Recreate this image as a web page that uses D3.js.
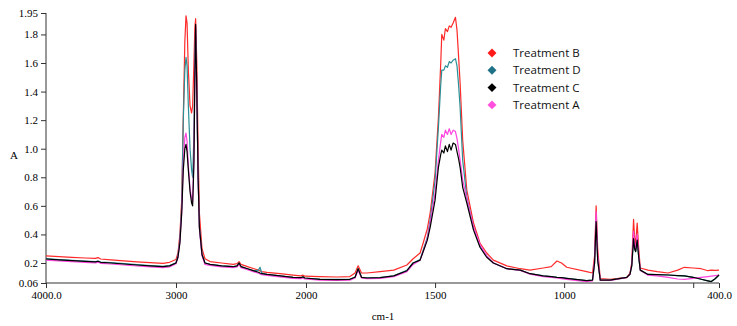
<!DOCTYPE html>
<html>
<head>
<meta charset="utf-8">
<script src="https://cdn.jsdelivr.net/npm/d3@7"></script>
<style>
  body { margin: 0; background: #fff; }
  .tick text { font-family: "Liberation Serif", serif; font-size: 11px; fill: #000; }
</style>
</head>
<body>
<div id="graph"></div>
<script>
const width = 737, height = 326;

// wavenumbers (cm-1), shared by all four spectra
const wavenumbers = [4000, 3900, 3800, 3700, 3620, 3600, 3580, 3500, 3400, 3300, 3200, 3100, 3050, 3000,
  2985, 2970, 2956, 2944, 2932, 2923, 2915, 2905, 2892, 2880, 2872, 2862, 2855, 2849, 2840, 2830, 2820,
  2800, 2777, 2738, 2650, 2560, 2530, 2515, 2500, 2450, 2400, 2365, 2354, 2340, 2300, 2200, 2100, 2040,
  2023, 2010, 1946, 1880, 1830, 1810, 1798, 1785, 1764, 1713, 1660, 1609, 1585, 1558, 1546, 1530, 1519,
  1500, 1487, 1478, 1474, 1466, 1460, 1452, 1445, 1438, 1430, 1421, 1415, 1409, 1403, 1393, 1377, 1351,
  1326, 1300, 1274, 1222, 1170, 1132, 1081, 1050, 1028, 1010, 990, 913, 890, 882, 876, 870, 860, 822,
  757, 745, 738, 731, 727, 723, 717, 711, 705, 675, 640, 597, 560, 534, 500, 469, 443, 430, 415, 400];

const treatmentB = [0.250, 0.245, 0.240, 0.235, 0.232, 0.238, 0.228, 0.222, 0.215, 0.208, 0.202, 0.198, 0.205, 0.225,
  0.27, 0.40, 0.64, 1.22, 1.75, 1.93, 1.88, 1.55, 1.30, 1.25, 1.30, 1.60, 1.85, 1.91, 1.60, 1.00, 0.55,
  0.30, 0.23, 0.21, 0.20, 0.19, 0.195, 0.21, 0.19, 0.175, 0.16, 0.15, 0.145, 0.14, 0.135, 0.125, 0.115, 0.11,
  0.115, 0.108, 0.104, 0.102, 0.105, 0.13, 0.18, 0.13, 0.13, 0.14, 0.15, 0.186, 0.23, 0.27, 0.34, 0.44, 0.55,
  0.83, 1.22, 1.60, 1.80, 1.76, 1.84, 1.82, 1.86, 1.85, 1.88, 1.92, 1.83, 1.65, 1.46, 1.06, 0.71, 0.48,
  0.34, 0.27, 0.22, 0.18, 0.16, 0.15, 0.165, 0.175, 0.214, 0.20, 0.17, 0.14, 0.13, 0.25, 0.60, 0.30, 0.09, 0.086,
  0.10, 0.13, 0.20, 0.505, 0.38, 0.33, 0.48, 0.30, 0.165, 0.15, 0.14, 0.13, 0.15, 0.17, 0.165, 0.16, 0.146, 0.15, 0.148, 0.15];

const treatmentD = [0.230, 0.224, 0.219, 0.214, 0.210, 0.214, 0.207, 0.202, 0.195, 0.188, 0.182, 0.176, 0.182, 0.202,
  0.25, 0.37, 0.60, 1.20, 1.55, 1.64, 1.58, 1.30, 1.00, 0.85, 0.80, 1.10, 1.60, 1.84, 1.40, 0.80, 0.45,
  0.26, 0.20, 0.19, 0.18, 0.175, 0.18, 0.20, 0.175, 0.16, 0.145, 0.15, 0.17, 0.13, 0.12, 0.11, 0.10, 0.097,
  0.103, 0.095, 0.087, 0.085, 0.087, 0.10, 0.16, 0.10, 0.096, 0.098, 0.11, 0.148, 0.20, 0.225, 0.29, 0.38, 0.50,
  0.78, 1.15, 1.45, 1.55, 1.55, 1.58, 1.57, 1.61, 1.60, 1.62, 1.63, 1.58, 1.45, 1.29, 0.92, 0.66, 0.45,
  0.32, 0.25, 0.20, 0.16, 0.15, 0.125, 0.11, 0.105, 0.10, 0.097, 0.093, 0.077, 0.08, 0.20, 0.50, 0.22, 0.08, 0.08,
  0.10, 0.12, 0.18, 0.37, 0.30, 0.28, 0.36, 0.24, 0.15, 0.12, 0.118, 0.116, 0.112, 0.11, 0.10, 0.086, 0.075, 0.07, 0.09, 0.116];

const treatmentC = [0.228, 0.222, 0.217, 0.212, 0.208, 0.212, 0.205, 0.200, 0.193, 0.186, 0.180, 0.174, 0.180, 0.200,
  0.24, 0.34, 0.55, 0.85, 1.00, 1.03, 0.98, 0.85, 0.70, 0.62, 0.60, 0.90, 1.50, 1.87, 1.40, 0.80, 0.45,
  0.26, 0.20, 0.19, 0.18, 0.174, 0.18, 0.20, 0.175, 0.16, 0.145, 0.135, 0.13, 0.125, 0.12, 0.11, 0.10, 0.097,
  0.103, 0.095, 0.086, 0.084, 0.086, 0.10, 0.16, 0.10, 0.095, 0.097, 0.11, 0.146, 0.20, 0.22, 0.28, 0.36, 0.45,
  0.64, 0.87, 0.96, 0.99, 0.97, 1.02, 0.98, 1.03, 0.99, 1.04, 1.03, 0.98, 0.93, 0.87, 0.73, 0.62, 0.43,
  0.31, 0.24, 0.20, 0.16, 0.15, 0.125, 0.11, 0.105, 0.10, 0.097, 0.093, 0.076, 0.08, 0.20, 0.49, 0.22, 0.08, 0.08,
  0.10, 0.12, 0.18, 0.37, 0.30, 0.28, 0.36, 0.24, 0.15, 0.12, 0.118, 0.116, 0.112, 0.11, 0.10, 0.086, 0.075, 0.07, 0.09, 0.116];

const treatmentA = [0.220, 0.215, 0.210, 0.205, 0.201, 0.205, 0.198, 0.193, 0.186, 0.179, 0.173, 0.167, 0.173, 0.195,
  0.24, 0.35, 0.56, 0.90, 1.08, 1.11, 1.05, 0.88, 0.72, 0.65, 0.63, 0.95, 1.50, 1.86, 1.40, 0.80, 0.44,
  0.25, 0.19, 0.183, 0.173, 0.167, 0.173, 0.19, 0.168, 0.153, 0.138, 0.128, 0.124, 0.118, 0.113, 0.103, 0.093, 0.09,
  0.095, 0.088, 0.08, 0.078, 0.08, 0.095, 0.15, 0.095, 0.09, 0.092, 0.105, 0.14, 0.19, 0.22, 0.28, 0.37, 0.48,
  0.69, 0.92, 1.05, 1.10, 1.08, 1.13, 1.10, 1.14, 1.10, 1.13, 1.12, 1.07, 1.00, 0.92, 0.78, 0.65, 0.45,
  0.33, 0.25, 0.20, 0.16, 0.148, 0.122, 0.105, 0.10, 0.095, 0.09, 0.085, 0.07, 0.075, 0.22, 0.56, 0.25, 0.078, 0.078,
  0.098, 0.12, 0.19, 0.42, 0.33, 0.30, 0.40, 0.26, 0.15, 0.115, 0.11, 0.10, 0.088, 0.086, 0.092, 0.10, 0.105, 0.108, 0.112, 0.116];

const yTicks = [0.06, 0.2, 0.4, 0.6, 0.8, 1.0, 1.2, 1.4, 1.6, 1.8, 1.95];
const xTicks = [4000, 3000, 2000, 1500, 1000, 500, 400];
const xTickLabels = {4000: "4000.0", 3000: "3000", 2000: "2000", 1500: "1500", 1000: "1000", 500: "", 400: "400.0"};

// drawing order: red, teal, magenta, black on top
const series = [
  {name: "Treatment B", values: treatmentB, color: "#ff2a2a"},
  {name: "Treatment D", values: treatmentD, color: "#2a8f97"},
  {name: "Treatment A", values: treatmentA, color: "#ff44e0"},
  {name: "Treatment C", values: treatmentC, color: "#000000"}
];
const legendOrder = ["Treatment B", "Treatment D", "Treatment C", "Treatment A"];
const legendColors = {"Treatment B": "#ff1a1a", "Treatment D": "#1f7288", "Treatment C": "#000000", "Treatment A": "#ff4fdc"};

let svg = d3.select("#graph").
append("svg").
attr("width", width).
attr("height", height);

// wavenumber axis is compressed by half above 2000 cm-1
const xScale = d3.scaleLinear().
domain([4000, 2000, 400]).
range([46, 306, 719]);
const yScale = d3.scaleLinear().
domain([0.06, 1.95]).
range([283, 13]);

const xAxis = d3.axisBottom(xScale).
tickValues(xTicks).
tickSize(5).
tickPadding(3).
tickFormat(d => xTickLabels[d]);
const yAxis = d3.axisLeft(yScale).
tickValues(yTicks).
tickSize(5).
tickPadding(3).
tickFormat(d => d === 0.06 ? "0.06" : d === 1.95 ? "1.95" : d3.format(".1f")(d));

svg.append("g").
attr("transform", "translate(0," + 283 + ")").
call(xAxis).
call(g => g.select(".domain").attr("d", "M46,0H719"));
svg.append("g").
attr("transform", "translate(46,0)").
call(yAxis).
call(g => g.select(".domain").attr("d", "M0,13V283"));

svg.selectAll(".domain, .tick line").attr("stroke", "#333");

const line = d3.line().
x((d, i) => xScale(wavenumbers[i])).
y(d => yScale(d));

svg.selectAll(".spectrum").
data(series).
enter().
append("path").
attr("class", "spectrum").
attr("d", d => line(d.values)).
attr("fill", "none").
attr("stroke", d => d.color).
attr("stroke-width", 1.2).
attr("stroke-linejoin", "round");

svg.append("text").
attr("x", 10).
attr("y", 159).
attr("font-family", "Liberation Serif, serif").
attr("font-size", 11).
text("A");
svg.append("text").
attr("x", 383).
attr("y", 320).
attr("text-anchor", "middle").
attr("font-family", "Liberation Serif, serif").
attr("font-size", 11).
text("cm-1");

let legend = svg.selectAll(".legend").
data(legendOrder).
enter().
append("g").
attr("class", "legend").
attr("transform", (d, i) => "translate(492," + (53 + i * 17.3) + ")");
legend.append("path").
attr("d", d3.symbol().type(d3.symbolSquare).size(40)).
attr("transform", "rotate(45)").
attr("fill", d => legendColors[d]);
legend.append("text").
attr("x", 21).
attr("y", 4).
attr("font-family", "Open Sans, sans-serif").
attr("font-size", 11.5).
attr("fill", "#111").
text(d => d);
</script>
</body>
</html>
